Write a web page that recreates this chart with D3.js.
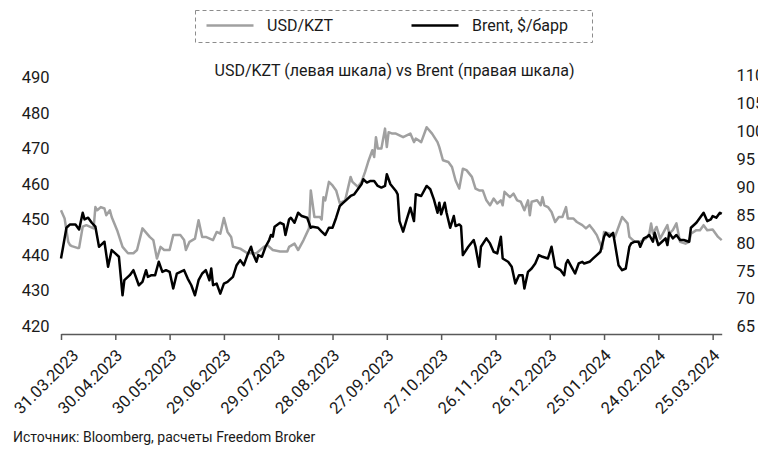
<!DOCTYPE html>
<html><head><meta charset="utf-8">
<script src="https://cdn.jsdelivr.net/npm/d3@7"></script>
<style>body{margin:0;background:#fff}svg{display:block}text{font-family:Roboto,sans-serif}</style>
</head><body><svg id="c" width="758" height="452"></svg>
<script>
const titleText = "USD/KZT (левая шкала) vs Brent (правая шкала)";
const sourceText = "Источник: Bloomberg, расчеты Freedom Broker";
const seriesNames = ["USD/KZT", "Brent, $/барр"];
const leftTicks = [420, 430, 440, 450, 460, 470, 480, 490];
const rightTicks = [65, 70, 75, 80, 85, 90, 95, 100, 105, 110];
const xTickDates = ["2023-03-31","2023-04-30","2023-05-30","2023-06-29","2023-07-29","2023-08-28","2023-09-27","2023-10-27","2023-11-26","2023-12-26","2024-01-25","2024-02-24","2024-03-25"];

const usdKzt = [
["2023-03-31",452.6],["2023-04-02",450.3],["2023-04-04",443.7],["2023-04-05",442.8],["2023-04-06",442.5],["2023-04-09",442.0],["2023-04-10",442.0],["2023-04-12",448.0],["2023-04-14",448.4],["2023-04-18",447.5],["2023-04-19",453.5],["2023-04-20",452.6],["2023-04-22",453.5],["2023-04-24",453.1],["2023-04-25",451.2],["2023-04-27",452.6],["2023-04-28",450.7],
["2023-05-01",447.0],["2023-05-04",442.3],["2023-05-07",440.5],["2023-05-10",440.5],["2023-05-12",441.4],["2023-05-15",447.5],["2023-05-19",445.1],["2023-05-21",444.2],["2023-05-23",439.0],["2023-05-25",442.3],["2023-05-27",441.4],["2023-05-30",441.4],
["2023-06-01",445.6],["2023-06-05",445.6],["2023-06-07",444.2],["2023-06-08",441.4],["2023-06-10",443.7],["2023-06-13",444.6],["2023-06-15",449.8],["2023-06-17",445.1],["2023-06-19",445.1],["2023-06-23",444.2],["2023-06-25",446.5],["2023-06-27",446.0],["2023-06-29",450.4],
["2023-07-01",446.5],["2023-07-03",445.1],["2023-07-04",442.3],["2023-07-08",441.8],["2023-07-12",440.5],["2023-07-17",440.5],["2023-07-21",442.3],["2023-07-23",442.8],["2023-07-26",441.4],["2023-07-30",441.0],
["2023-08-03",441.0],["2023-08-04",442.3],["2023-08-07",443.2],["2023-08-09",441.4],["2023-08-12",444.2],["2023-08-15",447.5],["2023-08-16",458.2],["2023-08-18",450.7],["2023-08-21",450.7],["2023-08-22",450.0],["2023-08-23",456.3],["2023-08-24",455.4],["2023-08-26",460.6],["2023-08-28",459.6],["2023-08-30",458.2],
["2023-09-01",454.6],["2023-09-04",455.4],["2023-09-07",462.0],["2023-09-08",460.6],["2023-09-11",459.2],["2023-09-13",460.6],["2023-09-15",463.4],["2023-09-17",466.7],["2023-09-19",469.5],["2023-09-20",467.6],["2023-09-21",473.2],["2023-09-22",470.0],["2023-09-24",470.0],["2023-09-26",475.6],["2023-09-27",470.4],["2023-09-28",474.6],["2023-09-30",474.2],
["2023-10-02",474.2],["2023-10-06",473.2],["2023-10-10",474.2],["2023-10-12",471.8],["2023-10-13",472.8],["2023-10-16",471.8],["2023-10-19",476.0],["2023-10-22",474.2],["2023-10-25",471.8],["2023-10-26",470.4],["2023-10-28",466.7],["2023-10-31",466.2],
["2023-11-02",464.8],["2023-11-04",461.0],["2023-11-06",458.7],["2023-11-08",464.3],["2023-11-10",463.9],["2023-11-13",462.0],["2023-11-15",458.7],["2023-11-17",458.2],["2023-11-19",458.2],["2023-11-21",455.4],["2023-11-23",454.0],["2023-11-25",455.9],["2023-11-27",454.5],["2023-11-29",455.4],["2023-11-30",454.0],
["2023-12-01",457.8],["2023-12-04",456.3],["2023-12-06",457.3],["2023-12-08",455.4],["2023-12-10",455.0],["2023-12-12",452.6],["2023-12-14",455.4],["2023-12-15",451.2],["2023-12-16",455.0],["2023-12-19",455.4],["2023-12-21",454.0],["2023-12-22",456.3],["2023-12-23",454.0],["2023-12-25",453.5],["2023-12-27",452.1],["2023-12-29",449.3],["2023-12-31",450.7],
["2024-01-02",450.7],["2024-01-04",453.5],["2024-01-05",450.3],["2024-01-08",450.3],["2024-01-10",449.3],["2024-01-13",448.4],["2024-01-15",447.5],["2024-01-17",448.4],["2024-01-19",447.1],["2024-01-21",445.6],["2024-01-24",441.8],["2024-01-25",446.5],["2024-01-28",446.0],["2024-01-31",445.1],
["2024-02-02",447.9],["2024-02-04",450.7],["2024-02-07",448.9],["2024-02-08",445.1],["2024-02-11",443.7],["2024-02-14",443.7],["2024-02-17",444.6],["2024-02-19",446.0],["2024-02-20",448.9],["2024-02-21",446.0],["2024-02-23",447.9],["2024-02-25",444.6],["2024-02-27",446.5],["2024-02-29",448.4],
["2024-03-01",446.0],["2024-03-03",447.0],["2024-03-05",448.9],["2024-03-07",443.7],["2024-03-10",443.2],["2024-03-12",443.7],["2024-03-13",446.0],["2024-03-16",447.0],["2024-03-18",447.0],["2024-03-20",448.4],["2024-03-22",447.0],["2024-03-25",447.2],["2024-03-28",445.1],["2024-03-30",444.2]
];

const brent = [
["2023-03-31",77.2],["2023-04-01",79.0],["2023-04-03",82.7],["2023-04-05",83.3],["2023-04-08",83.3],["2023-04-10",82.4],["2023-04-12",85.4],["2023-04-13",84.2],["2023-04-15",84.5],["2023-04-17",83.6],["2023-04-19",82.9],["2023-04-21",79.3],["2023-04-22",79.6],["2023-04-24",80.2],["2023-04-26",75.7],["2023-04-28",78.7],["2023-04-30",78.1],
["2023-05-02",77.5],["2023-05-04",70.6],["2023-05-05",73.3],["2023-05-08",74.2],["2023-05-10",75.1],["2023-05-13",72.4],["2023-05-15",73.0],["2023-05-17",75.1],["2023-05-18",73.9],["2023-05-20",74.2],["2023-05-22",74.2],["2023-05-24",76.6],["2023-05-26",74.8],["2023-05-28",75.1],["2023-05-30",74.8],
["2023-06-01",71.8],["2023-06-03",74.5],["2023-06-05",74.8],["2023-06-07",75.1],["2023-06-09",73.6],["2023-06-11",72.4],["2023-06-13",70.6],["2023-06-15",73.3],["2023-06-17",74.5],["2023-06-19",75.1],["2023-06-21",73.3],["2023-06-22",75.4],["2023-06-23",72.4],["2023-06-25",72.7],["2023-06-27",70.9],["2023-06-29",72.7],
["2023-07-01",73.0],["2023-07-02",73.3],["2023-07-04",73.9],["2023-07-06",76.0],["2023-07-08",76.9],["2023-07-10",76.0],["2023-07-12",77.8],["2023-07-14",79.3],["2023-07-15",78.1],["2023-07-17",76.6],["2023-07-18",77.8],["2023-07-20",77.5],["2023-07-22",79.3],["2023-07-24",80.5],["2023-07-25",81.4],["2023-07-26",81.1],["2023-07-27",82.9],["2023-07-30",83.6],
["2023-08-01",83.3],["2023-08-02",81.4],["2023-08-04",84.2],["2023-08-05",84.5],["2023-08-07",83.6],["2023-08-09",85.4],["2023-08-11",84.8],["2023-08-14",84.5],["2023-08-16",82.7],["2023-08-17",82.9],["2023-08-20",82.7],["2023-08-22",82.0],["2023-08-24",81.4],["2023-08-26",82.7],["2023-08-28",82.7],["2023-08-30",84.5],
["2023-09-01",86.6],["2023-09-03",87.2],["2023-09-05",87.8],["2023-09-07",88.4],["2023-09-09",88.7],["2023-09-11",89.6],["2023-09-13",90.5],["2023-09-14",91.4],["2023-09-16",90.8],["2023-09-18",91.1],["2023-09-20",91.1],["2023-09-22",90.2],["2023-09-24",89.9],["2023-09-26",90.2],["2023-09-27",92.3],["2023-09-29",90.5],
["2023-10-02",89.3],["2023-10-03",88.7],["2023-10-04",83.9],["2023-10-06",82.0],["2023-10-08",84.2],["2023-10-10",86.3],["2023-10-12",83.9],["2023-10-13",88.7],["2023-10-16",88.4],["2023-10-19",90.2],["2023-10-21",89.6],["2023-10-23",87.8],["2023-10-25",85.4],["2023-10-26",87.2],["2023-10-27",85.1],["2023-10-29",87.2],["2023-10-30",85.4],
["2023-11-01",82.7],["2023-11-03",84.8],["2023-11-04",83.0],["2023-11-06",83.3],["2023-11-07",83.0],["2023-11-08",77.8],["2023-11-11",79.3],["2023-11-14",80.5],["2023-11-15",79.3],["2023-11-17",75.7],["2023-11-18",79.3],["2023-11-21",80.8],["2023-11-23",79.9],["2023-11-25",78.4],["2023-11-27",78.1],["2023-11-29",81.1],["2023-11-30",77.2],
["2023-12-03",76.6],["2023-12-05",75.7],["2023-12-07",72.7],["2023-12-09",74.2],["2023-12-11",74.2],["2023-12-12",71.8],["2023-12-14",74.8],["2023-12-16",75.4],["2023-12-18",76.3],["2023-12-20",77.8],["2023-12-22",77.5],["2023-12-25",77.2],["2023-12-27",79.3],["2023-12-29",75.7],
["2024-01-01",75.1],["2024-01-03",74.2],["2024-01-04",76.3],["2024-01-05",76.9],["2024-01-07",75.7],["2024-01-09",74.5],["2024-01-11",76.3],["2024-01-13",76.6],["2024-01-14",76.3],["2024-01-17",76.6],["2024-01-19",77.2],["2024-01-21",77.8],["2024-01-23",78.4],["2024-01-25",81.1],["2024-01-26",81.8],["2024-01-28",81.1],["2024-01-30",81.8],["2024-01-31",79.9],
["2024-02-02",76.0],["2024-02-04",75.1],["2024-02-06",75.4],["2024-02-08",79.3],["2024-02-09",79.9],["2024-02-11",80.2],["2024-02-13",80.2],["2024-02-14",79.3],["2024-02-16",80.8],["2024-02-18",81.1],["2024-02-19",81.4],["2024-02-21",80.2],["2024-02-22",81.8],["2024-02-24",79.6],["2024-02-26",80.2],["2024-02-28",80.8],["2024-02-29",79.6],
["2024-03-01",81.8],["2024-03-03",80.8],["2024-03-05",81.4],["2024-03-07",80.5],["2024-03-09",80.5],["2024-03-12",80.2],["2024-03-13",82.7],["2024-03-16",83.6],["2024-03-18",84.5],["2024-03-20",85.4],["2024-03-22",83.9],["2024-03-24",84.2],["2024-03-25",84.8],["2024-03-27",84.5],["2024-03-29",85.4],["2024-03-30",85.2]
];

const parse = d3.utcParse("%Y-%m-%d");
const fmt = d3.utcFormat("%d.%m.%Y");
const svg = d3.select("#c");

const x = d3.scaleUtc().domain([parse("2023-03-31"), parse("2024-03-30")]).range([61, 721.7]);
const yL = d3.scaleLinear().domain([420, 490]).range([326, 77.5]);
const yR = d3.scaleLinear().domain([65, 110]).range([326.5, 75.5]);
const axisY = 334;

// Legend
const lg = svg.append("g");
lg.append("rect").attr("x",195.5).attr("y",10.5).attr("width",397).attr("height",32)
  .attr("fill","none").attr("stroke","#8c8c8c").attr("stroke-width",1).attr("stroke-dasharray","4,3");
const legendItems = [{name:seriesNames[0], color:"#a0a0a0", x0:206.5}, {name:seriesNames[1], color:"#000", x0:411.5}];
legendItems.forEach(it=>{
  lg.append("line").attr("x1",it.x0).attr("x2",it.x0+47).attr("y1",25.5).attr("y2",25.5)
    .attr("stroke",it.color).attr("stroke-width",2.5);
  lg.append("text").attr("x",it.x0+60.5).attr("y",25.5).attr("dy","0.35em")
    .attr("font-size",16).attr("fill","#1a1a1a").text(it.name);
});

// Title
svg.append("text").attr("x",394.5).attr("y",70).attr("dy","0.35em").attr("text-anchor","middle")
  .attr("font-size",16).attr("fill","#1a1a1a").text(titleText);

// Y axes (labels only)
const gl = svg.append("g").attr("transform","translate(49.5,0)")
  .call(d3.axisLeft(yL).tickValues(leftTicks).tickSize(0).tickPadding(0));
const gr = svg.append("g").attr("transform","translate(736.5,0)")
  .call(d3.axisRight(yR).tickValues(rightTicks).tickSize(0).tickPadding(0));
[gl, gr].forEach(g=>{
  g.select(".domain").remove();
  g.selectAll("text").attr("font-size",16.5).attr("fill","#1a1a1a").attr("font-family","Roboto,sans-serif");
});

// X axis
const gx = svg.append("g").attr("transform",`translate(0,${axisY})`)
  .call(d3.axisBottom(x).tickValues(xTickDates.map(parse)).tickSize(6).tickSizeOuter(0).tickFormat(fmt));
gx.select(".domain").attr("stroke","#595959").attr("stroke-width",1.5);
gx.selectAll(".tick line").attr("stroke","#595959").attr("stroke-width",1.5);
gx.selectAll(".tick text").attr("font-size",16.5).attr("fill","#1a1a1a").attr("font-family","Roboto,sans-serif")
  .attr("text-anchor","end").attr("y",0).attr("dy",0)
  .attr("transform",(d,i)=>`translate(${i===0?18:7.5},22.5) rotate(-45)`);

// Lines
const lineL = d3.line().x(d=>x(parse(d[0]))).y(d=>yL(d[1]));
const lineR = d3.line().x(d=>x(parse(d[0]))).y(d=>yR(d[1]));
svg.append("path").datum(usdKzt).attr("d",lineL).attr("fill","none").attr("stroke","#a0a0a0")
  .attr("stroke-width",2.5).attr("stroke-linejoin","round");
svg.append("path").datum(brent).attr("d",lineR).attr("fill","none").attr("stroke","#000")
  .attr("stroke-width",2.5).attr("stroke-linejoin","round");

// Source
svg.append("text").attr("x",13).attr("y",437).attr("dy","0.35em").attr("font-size",14)
  .attr("fill","#1a1a1a").text(sourceText);
</script></body></html>
